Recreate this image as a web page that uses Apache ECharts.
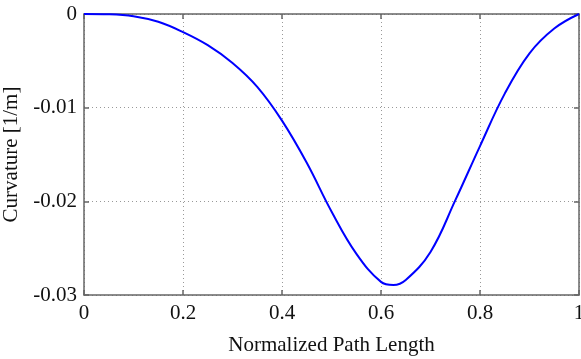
<!DOCTYPE html>
<html>
<head>
<meta charset="utf-8">
<script src="https://cdn.jsdelivr.net/npm/echarts@6/dist/echarts.min.js"></script>
<style>
  html, body { margin: 0; padding: 0; background: #fff; }
  #chart { width: 581px; height: 359px; }
</style>
</head>
<body>
<div id="chart"></div>
<script>
// Curvature along the normalized path
const pathLength = [0, 0.05, 0.1, 0.15, 0.2, 0.25, 0.3, 0.35, 0.4, 0.45, 0.5, 0.55, 0.6, 0.625, 0.65, 0.7, 0.75, 0.8, 0.85, 0.9, 0.95, 1];
const curvature = [0, -0.00003, -0.00023, -0.00083, -0.00193, -0.00333, -0.00523, -0.00778, -0.01138, -0.01588, -0.02108, -0.02558, -0.0286, -0.02893, -0.0284, -0.0254, -0.0199, -0.0141, -0.0085, -0.0042, -0.00155, 0];
const xTicks = [0, 0.2, 0.4, 0.6, 0.8, 1];
const yTicks = [-0.03, -0.02, -0.01, 0];

const chart = echarts.init(document.getElementById('chart'));
const font = '"Liberation Serif", "DejaVu Serif", serif';
const axisColor = '#666';
const gridLine = { show: true, lineStyle: { color: '#999', type: [1, 3], width: 1 } };

const xBase = {
  type: 'value', min: 0, max: 1, interval: 0.2,
  axisLine: { show: true, onZero: false, lineStyle: { color: axisColor, width: 1.5 } },
  axisTick: { show: true, inside: true, length: 5, lineStyle: { color: axisColor, width: 1.5 } }
};
const yBase = {
  type: 'value', min: -0.03, max: 0, interval: 0.01,
  axisLine: { show: true, onZero: false, lineStyle: { color: axisColor, width: 1.5 } },
  axisTick: { show: true, inside: true, length: 5, lineStyle: { color: axisColor, width: 1.5 } }
};

chart.setOption({
  animation: false,
  backgroundColor: '#fff',
  grid: { left: 84, right: 2, top: 14, bottom: 64, outerBoundsMode: 'none', containLabel: false },
  xAxis: [
    Object.assign({}, xBase, {
      position: 'bottom',
      name: 'Normalized Path Length',
      nameLocation: 'middle',
      nameGap: 40,
      nameTextStyle: { fontFamily: font, fontSize: 21, color: '#111' },
      axisLabel: {
        fontFamily: font, fontSize: 21, color: '#111', margin: 8,
        formatter: v => xTicks.includes(+v.toFixed(1)) ? String(+v.toFixed(1)) : ''
      },
      splitLine: gridLine
    }),
    Object.assign({}, xBase, {
      position: 'top', axisLabel: { show: false }, splitLine: { show: false }
    })
  ],
  yAxis: [
    Object.assign({}, yBase, {
      position: 'left',
      name: 'Curvature [1/m]',
      nameLocation: 'middle',
      nameGap: 59,
      nameTextStyle: { fontFamily: font, fontSize: 21, color: '#111' },
      axisLabel: {
        fontFamily: font, fontSize: 21, color: '#111', margin: 7,
        formatter: v => {
          const r = +v.toFixed(2);
          return yTicks.includes(r) ? String(r) : '';
        }
      },
      splitLine: gridLine
    }),
    Object.assign({}, yBase, {
      position: 'right', axisLabel: { show: false }, splitLine: { show: false }
    })
  ],
  series: [{
    type: 'line',
    data: pathLength.map((x, i) => [x, curvature[i]]),
    smooth: 0.4,
    showSymbol: false,
    lineStyle: { color: '#0000ff', width: 2 },
    xAxisIndex: 0,
    yAxisIndex: 0
  }]
});
</script>
</body>
</html>
